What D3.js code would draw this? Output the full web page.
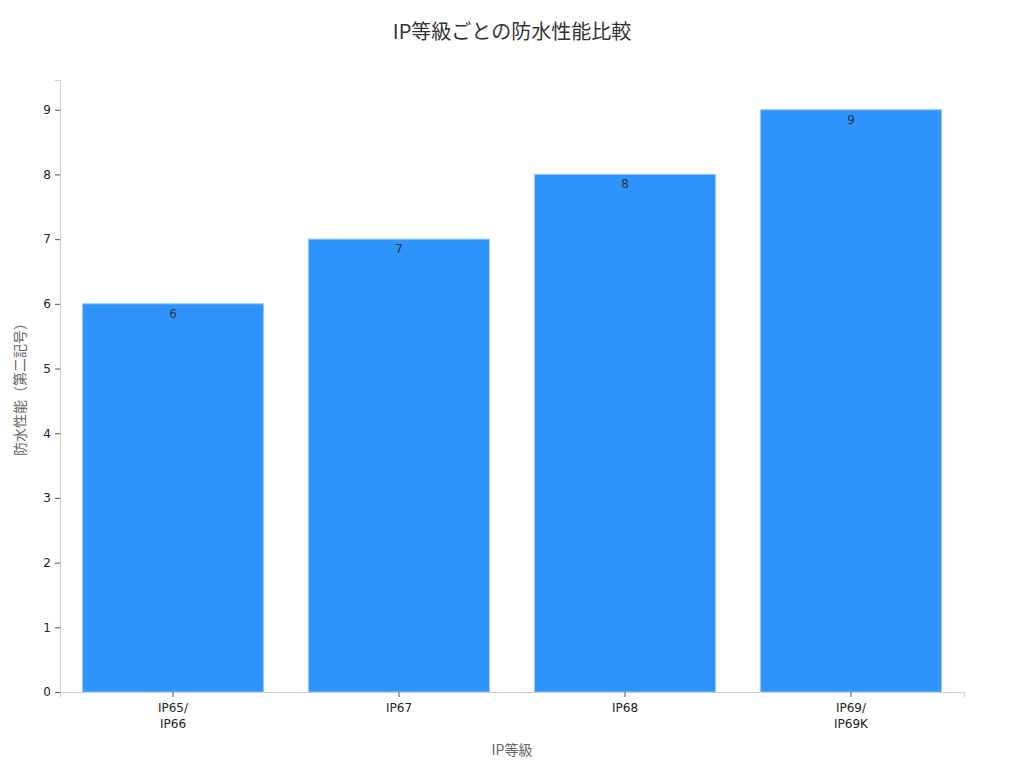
<!DOCTYPE html>
<html>
<head>
<meta charset="utf-8">
<script src="https://cdn.jsdelivr.net/npm/d3@7"></script>
<style>
  body { margin: 0; background: #fff; }
  text { font-family: "DejaVu Sans", "Noto Sans CJK JP", sans-serif; }
</style>
</head>
<body>
<div id="wrapper"></div>
<script>
// Data
const categories = ["IP65/\nIP66", "IP67", "IP68", "IP69/\nIP69K"];
const values = [6, 7, 8, 9];
const yTicks = [0, 1, 2, 3, 4, 5, 6, 7, 8, 9];
const chartTitle = "IP等級ごとの防水性能比較";
const xTitle = "IP等級";
const yTitle = "防水性能（第二記号）";

function buildPlot() {
    let dimension = {
        width: 1024,
        height: 768,
        margin: { top: 80, right: 60, bottom: 76, left: 60 },
    }
    dimension.boundedWidth = dimension.width - dimension.margin.left - dimension.margin.right;
    dimension.boundedHeight = dimension.height - dimension.margin.top - dimension.margin.bottom;

    const wrapper = d3.select("#wrapper")
        .append("svg")
        .attr("width", dimension.width)
        .attr("height", dimension.height)

    const bounds = wrapper.append("g")
        .attr("transform", `translate(${dimension.margin.left},${dimension.margin.top})`)

    // Scales
    const xScaler = d3.scaleBand()
        .domain(categories)
        .range([0, dimension.boundedWidth])
        .paddingInner(0.2)
        .paddingOuter(0.1)

    const yScaler = d3.scaleLinear()
        .domain([0, 9.46])
        .range([dimension.boundedHeight, 0])

    // Bars
    bounds.selectAll("rect.bar")
        .data(values)
        .join("rect")
        .attr("class", "bar")
        .attr("x", (d, i) => xScaler(categories[i]))
        .attr("y", d => yScaler(d))
        .attr("width", xScaler.bandwidth())
        .attr("height", d => dimension.boundedHeight - yScaler(d))
        .attr("fill", "#2e93fa")
        .attr("stroke", "#8cc4fc")
        .attr("stroke-width", 1)

    // Value labels
    bounds.selectAll("text.val")
        .data(values)
        .join("text")
        .attr("class", "val")
        .attr("x", (d, i) => xScaler(categories[i]) + xScaler.bandwidth() / 2)
        .attr("y", d => yScaler(d) + 14)
        .attr("text-anchor", "middle")
        .attr("font-size", 12)
        .attr("fill", "#333")
        .text(d => d)

    // Y axis
    const yAxis = bounds.append("g")
        .call(d3.axisLeft(yScaler).tickValues(yTicks).tickSize(5).tickPadding(4))
    yAxis.select(".domain").attr("stroke", "#ccc")
    yAxis.selectAll(".tick line").attr("stroke", "#555")
    yAxis.selectAll(".tick text").attr("font-size", 12).attr("fill", "#222")
        .style("font-family", "DejaVu Sans")

    // X axis
    const xAxis = bounds.append("g")
        .attr("transform", `translate(0,${dimension.boundedHeight})`)
        .call(d3.axisBottom(xScaler).tickSize(5).tickPadding(4).tickFormat(""))
    xAxis.select(".domain").attr("stroke", "#ccc")
    xAxis.selectAll(".tick line").attr("stroke", "#555")
    xAxis.selectAll(".tick").each(function(d) {
        const lines = d.split("\n");
        const t = d3.select(this).append("text")
            .attr("fill", "#222")
            .attr("font-size", 12)
            .attr("text-anchor", "middle")
            .style("font-family", "DejaVu Sans")
        lines.forEach((ln, k) => {
            t.append("tspan").attr("x", 0).attr("y", 20 + k * 16).text(ln)
        })
    })

    // Titles
    wrapper.append("text")
        .attr("x", dimension.width / 2)
        .attr("y", 39)
        .attr("text-anchor", "middle")
        .attr("font-size", 20)
        .attr("fill", "#333")
        .style("font-family", "Noto Sans CJK JP")
        .text(chartTitle)

    wrapper.append("text")
        .attr("x", dimension.margin.left + dimension.boundedWidth / 2)
        .attr("y", 755)
        .attr("text-anchor", "middle")
        .attr("font-size", 14)
        .attr("fill", "#666")
        .style("font-family", "Noto Sans CJK JP")
        .text(xTitle)

    wrapper.append("text")
        .attr("transform", `translate(25,${dimension.margin.top + dimension.boundedHeight / 2}) rotate(-90)`)
        .attr("text-anchor", "middle")
        .attr("font-size", 14)
        .attr("fill", "#666")
        .style("font-family", "Noto Sans CJK JP")
        .text(yTitle)
}

buildPlot()
</script>
</body>
</html>
